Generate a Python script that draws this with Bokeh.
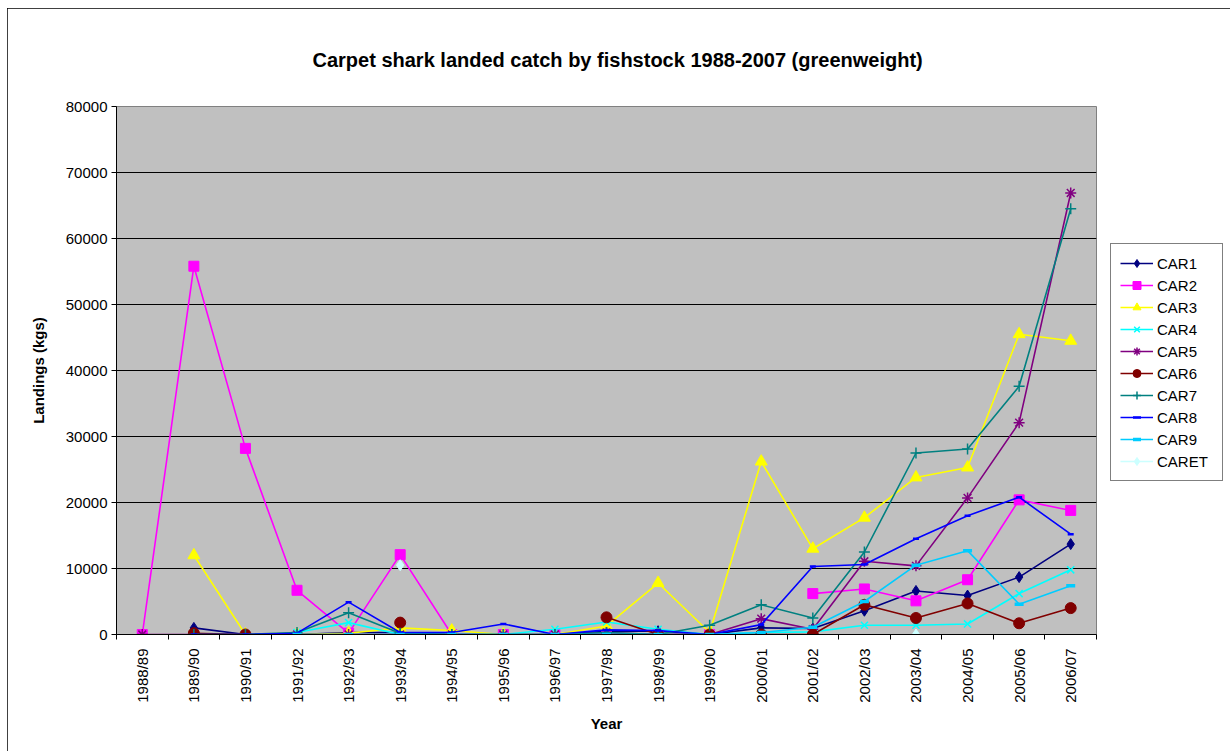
import math
import numpy as np
from bokeh.plotting import figure
from bokeh.models import (Range1d, FixedTicker, Legend, LegendItem,
                          NumeralTickFormatter, ColumnDataSource)
from bokeh.embed import file_html
from bokeh.resources import INLINE

# ---------------- data ----------------
years = ["1988/89", "1989/90", "1990/91", "1991/92", "1992/93", "1993/94",
         "1994/95", "1995/96", "1996/97", "1997/98", "1998/99", "1999/00",
         "2000/01", "2001/02", "2002/03", "2003/04", "2004/05", "2005/06",
         "2006/07"]

CAR1 = [None, 1000, 0, 0, 300, 300, 0, 0, 0, 500, 500, 0,
        1000, 900, 3600, 6600, 5900, 8700, 13700]
CAR2 = [0, 55800, 28200, 6700, 200, 12100, 0, 0, 0, 0, 0, 0,
        None, 6200, 6900, 5100, 8300, 20400, 18800]
CAR3 = [None, 12000, 0, 0, 200, 1000, 600, 0, 0, 1300, 7800, 300,
        26200, 13000, 17700, 23800, 25300, 45500, 44500]
CAR4 = [None, None, None, 300, 1800, 0, 0, 0, 800, 1900, 800, 0,
        300, 400, 1400, 1400, 1600, 6200, 9800]
CAR5 = [0, 0, 0, 0, 0, 0, 0, 0, 0, 300, 0, 0,
        2400, 800, 11100, 10400, 20700, 32100, 66900]
CAR6 = [None, 200, 0, None, None, 1800, None, None, None, 2600, 0, 0,
        0, 0, 4500, 2500, 4700, 1700, 4000]
CAR7 = [None, 0, 0, 300, 3300, 200, 0, 0, 0, 300, 0, 1400,
        4500, 2500, 12500, 27500, 28100, 37600, 64500]
CAR8 = [None, 0, 0, 200, 4900, 300, 300, 1600, 0, 700, 600, 0,
        1500, 10300, 10600, 14500, 18000, 20800, 15200]
CAR9 = [None, None, None, 0, 0, 0, 0, 0, 0, 0, 0, 0,
        300, 1100, 5000, 10500, 12700, 4600, 7400]
CARET = [None, None, None, None, None, 10500, None, None, None, None, None, None,
         None, None, None, 0, None, None, None]

series_names = ["CAR1", "CAR2", "CAR3", "CAR4", "CAR5", "CAR6", "CAR7", "CAR8", "CAR9", "CARET"]
series_values = [CAR1, CAR2, CAR3, CAR4, CAR5, CAR6, CAR7, CAR8, CAR9, CARET]
y_ticks = list(range(0, 80001, 10000))

# ---------------- styles ----------------
styles = {
    "CAR1": dict(color="#000080", marker="diamond", size=11, lw=1),
    "CAR2": dict(color="#FF00FF", marker="square", size=10, lw=1),
    "CAR3": dict(color="#FFFF00", marker="triangle", size=12, lw=1),
    "CAR4": dict(color="#00FFFF", marker="x", size=10, lw=1.5),
    "CAR5": dict(color="#800080", marker="asterisk", size=11, lw=1.5),
    "CAR6": dict(color="#800000", marker="circle", size=11, lw=1),
    "CAR7": dict(color="#008080", marker="cross", size=11, lw=1.5),
    "CAR8": dict(color="#0000FF", marker="dash", size=6, lw=2.5),
    "CAR9": dict(color="#00CCFF", marker="dash", size=9, lw=3.5),
    "CARET": dict(color="#CCFFFF", marker="diamond", size=11, lw=1),
}

FONT = "Liberation Sans"

p = figure(frame_width=980, frame_height=528, output_backend="svg", toolbar_location=None,
           x_range=Range1d(-0.5, len(years) - 0.5), y_range=Range1d(0, 80000),
           min_border_left=109, min_border_top=98, min_border_right=131,
           min_border_bottom=117,
           background_fill_color="#C0C0C0", border_fill_color="white",
           outline_line_color="#808080", outline_line_width=1)
p.margin = (8, 3, 0, 7)
p.styles = {"outline": "1px solid #000000", "outline-offset": "-1px"}

p.title.text = "Carpet shark landed catch by fishstock 1988-2007 (greenweight)"
p.title.text_font = FONT
p.title.text_font_size = "20px"
p.title.text_font_style = "bold"
p.title.text_color = "black"
p.title.align = "left"
p.title.offset = 196
p.title.standoff = 72

x = list(range(len(years)))
items = []
for name, vals in zip(series_names, series_values):
    st = styles[name]
    src = ColumnDataSource(dict(x=x, y=np.array(vals, dtype=float)))
    rl = p.line("x", "y", source=src, line_color=st["color"], line_width=1.6)
    rm = p.scatter("x", "y", source=src, marker=st["marker"], size=st["size"],
                   fill_color=st["color"], line_color=st["color"], line_width=st["lw"])
    items.append(LegendItem(label=name, renderers=[rl, rm]))

# x axis
p.xaxis.ticker = FixedTicker(ticks=x, minor_ticks=[i - 0.5 for i in range(len(years) + 1)])
p.xaxis.major_label_overrides = {i: yv for i, yv in enumerate(years)}
p.xaxis.major_label_orientation = math.pi / 2
p.xaxis.major_tick_out = 0
p.xaxis.major_tick_in = 0
p.xaxis.minor_tick_out = 5
p.xaxis.minor_tick_in = 0
p.xaxis.minor_tick_line_color = "black"
p.xaxis.major_label_standoff = 9
p.xaxis.axis_label = "Year"
p.xaxis.axis_label_standoff = 9

# y axis
p.yaxis.ticker = FixedTicker(ticks=y_ticks)
p.yaxis.formatter = NumeralTickFormatter(format="0")
p.yaxis.major_tick_out = 5
p.yaxis.major_tick_in = 0
p.yaxis.minor_tick_line_color = None
p.yaxis.major_label_standoff = 4
p.yaxis.axis_label = "Landings (kgs)"
p.yaxis.axis_label_standoff = 16

for ax in (p.xaxis[0], p.yaxis[0]):
    ax.axis_line_color = "black"
    ax.major_tick_line_color = "black"
    ax.major_label_text_font = FONT
    ax.major_label_text_font_size = "15px"
    ax.major_label_text_color = "black"
    ax.axis_label_text_font = FONT
    ax.axis_label_text_font_size = "15px"
    ax.axis_label_text_font_style = "bold"
    ax.axis_label_text_color = "black"

p.xgrid.visible = False
p.ygrid.grid_line_color = "black"
p.ygrid.grid_line_width = 1

legend = Legend(items=items, location=(14, 153))
legend.label_text_font = FONT
legend.label_text_font_size = "15px"
legend.label_text_color = "black"
legend.border_line_color = "black"
legend.border_line_width = 1
legend.background_fill_color = "white"
legend.background_fill_alpha = 1
legend.glyph_width = 33
legend.glyph_height = 20
legend.label_height = 20
legend.label_width = 56
legend.label_standoff = 4
legend.spacing = 2
legend.padding = 9
legend.margin = 0
p.add_layout(legend, "right")

open("out.html", "w").write(file_html(p, INLINE))
